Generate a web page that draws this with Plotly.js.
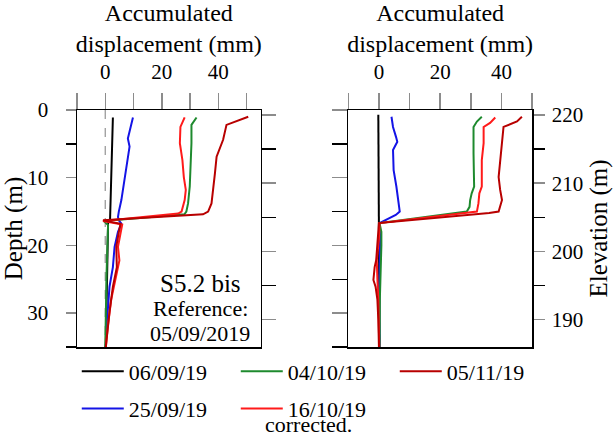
<!DOCTYPE html>
<html>
<head>
<meta charset="utf-8">
<script src="https://cdn.plot.ly/plotly-3.0.1.min.js"></script>
<style>html,body{margin:0;padding:0;background:#fff;}#chart{width:614px;height:438px;}</style>
</head>
<body>
<div id="chart"></div>
<script>
// ---- Series names / colours ----
const seriesNames = ['06/09/19', '25/09/19', '04/10/19', '16/10/19', '05/11/19'];
const seriesColors = ['#000000', '#1414e6', '#1e8a2e', '#ff1a1a', '#b80000'];

// ---- Left panel (S5.2 bis), displacement (mm) vs depth (m) ----
const L_black_depth = [1.1, 5, 10, 15, 16.2, 16.5, 20, 25, 30, 35];
const L_black_mm    = [2.7, 2.5, 2.2, 1.9, 1.7, 1.0, 0.8, 0.6, 0.3, 0.2];

const L_blue_depth = [1.1, 2.5, 4.2, 5.4, 7, 8.9, 11, 13.3, 15.0, 15.8, 16.3, 16.8, 18, 20.2, 23.2, 26.1, 29, 32, 35];
const L_blue_mm    = [9.8, 9.0, 8.0, 8.6, 8.0, 7.4, 6.6, 5.7, 4.8, 4.5, 4.8, 5.7, 4.5, 3.3, 2.7, 1.5, 1.0, 0.4, 0.2];

const L_green_depth = [1.1, 2.2, 4.9, 7.4, 9.9, 11.3, 13.8, 15.0, 15.4, 16.4, 17.0, 18.2, 20, 22, 25, 28, 31, 35];
const L_green_mm    = [32.3, 30.5, 30.5, 30.3, 30.2, 29.9, 29.3, 28.7, 28.0, -0.5, 1.0, 0.9, 0.6, 0.4, 0.4, 0.3, 0.2, 0.0];

const L_red_depth = [1.1, 2.5, 4.9, 7.4, 9.9, 11.8, 13.3, 15.0, 15.3, 16.4, 16.9, 18.5, 20.2, 22.2, 24.6, 28, 32, 35];
const L_red_mm    = [28.1, 26.6, 26.4, 27.3, 27.8, 28.5, 28.1, 27.0, 25.8, -0.8, 6.0, 5.2, 4.5, 5.0, 3.9, 2.1, 0.9, 0.2];

const L_dred_depth = [1.0, 2.2, 4.4, 6.9, 9.4, 11.8, 13.8, 15.0, 15.4, 16.3, 16.8, 18, 20.2, 23.2, 26.1, 29.8, 35];
const L_dred_mm    = [50.6, 42.9, 41.7, 39.4, 38.8, 38.2, 37.6, 36.4, 34.6, -0.8, 5.4, 4.8, 3.9, 4.1, 2.7, 1.5, 0.2];

// dashed zero reference (left panel)
const L_zero_mm = [0, 0];
const L_zero_depth = [0, 35];

// ---- Right panel, displacement (mm) vs depth (m) ----
const R_black_depth = [0.7, 8, 16.7, 25, 35];
const R_black_mm    = [-0.2, -0.1, 0.1, 0.2, 0.2];

const R_blue_depth = [1.0, 2.5, 4.0, 4.7, 5.9, 8.9, 11.3, 13.3, 15.0, 15.5, 16.0, 16.7, 19, 22, 25, 28, 31, 35];
const R_blue_mm    = [4.1, 4.6, 5.6, 6.0, 4.6, 4.8, 5.7, 6.2, 6.8, 5.5, 3.5, 0.2, 0.4, 0.3, 0.0, 0.1, 0.1, 0.2];

const R_green_depth = [1.0, 1.7, 2.5, 4.5, 6.4, 9, 11.3, 12.3, 13.3, 14.3, 15.0, 16.7, 18, 20, 24, 28, 35];
const R_green_mm    = [33.6, 32.0, 30.9, 30.8, 30.9, 31.0, 31.1, 30.3, 29.8, 29.6, 28.7, 0.2, 0.8, 0.8, 0.5, 0.3, 0.2];

const R_red_depth = [1.1, 1.9, 2.5, 4.9, 7.4, 9.9, 11.3, 12.3, 13.8, 15.0, 16.7, 19, 22.2, 25, 28, 35];
const R_red_mm    = [38.0, 36.3, 34.2, 34.2, 33.6, 33.6, 33.6, 32.8, 32.5, 32.0, 0.2, 0.0, -0.7, -0.5, -0.2, 0.1];

const R_dred_depth = [1.0, 1.7, 2.5, 4.9, 7.4, 9.9, 11.8, 13.3, 15.0, 15.2, 16.7, 19, 22.2, 23.2, 25.1, 26.1, 28, 31, 35];
const R_dred_mm    = [46.7, 45.1, 40.7, 40.2, 39.6, 39.1, 39.6, 40.2, 39.1, 36.0, 0.0, -0.3, -0.9, -1.4, -1.8, -1.1, -0.5, -0.2, 0.0];

// ---- Axis ranges ----
const depthRange = [35, 0];
const elevRange = [186.0, 220.73];
const leftDispRange = [-10, 55];
const rightDispRange = [-10, 50];

const FONT = '"Liberation Serif", "Times New Roman", Times, serif';

const leftSeries = [
  [L_black_mm, L_black_depth], [L_blue_mm, L_blue_depth], [L_green_mm, L_green_depth],
  [L_red_mm, L_red_depth], [L_dred_mm, L_dred_depth]
];
const rightSeries = [
  [R_black_mm, R_black_depth], [R_blue_mm, R_blue_depth], [R_green_mm, R_green_depth],
  [R_red_mm, R_red_depth], [R_dred_mm, R_dred_depth]
];
// legend rows: first row 06/09, 04/10, 05/11 ; second row 25/09, 16/10
const legendOf = ['legend', 'legend2', 'legend', 'legend2', 'legend'];
const rankOf = [1, 1, 2, 2, 3];

const traces = [];
traces.push({
  x: L_zero_mm, y: L_zero_depth, xaxis: 'x', yaxis: 'y', mode: 'lines',
  line: {color: '#9a9a9a', width: 1.3, dash: 'dash'}, showlegend: false, hoverinfo: 'skip'
});
leftSeries.forEach((s, i) => {
  traces.push({
    x: s[0], y: s[1], xaxis: 'x', yaxis: 'y', mode: 'lines', name: seriesNames[i],
    line: {color: seriesColors[i], width: 2}, legend: legendOf[i], legendrank: rankOf[i]
  });
});
rightSeries.forEach((s, i) => {
  traces.push({
    x: s[0], y: s[1], xaxis: 'x2', yaxis: 'y4', mode: 'lines', name: seriesNames[i],
    line: {color: seriesColors[i], width: 2}, showlegend: false
  });
});
// empty placeholders so the elevation axes are laid out (they carry no marks)
traces.push({x: [], y: [], xaxis: 'x2', yaxis: 'y2', mode: 'lines', showlegend: false, hoverinfo: 'skip'});
traces.push({x: [], y: [], xaxis: 'x', yaxis: 'y3', mode: 'lines', showlegend: false, hoverinfo: 'skip'});

const tickFont = {family: FONT, size: 21, color: '#000'};
const titleFont = {family: FONT, size: 25, color: '#000'};
const GRAY = '#8c8c8c';

function xAxis(domain, range) {
  return {
    domain: domain, anchor: 'y', side: 'top', range: range,
    tickmode: 'linear', tick0: 0, dtick: 20,
    ticks: 'outside', ticklen: 16, tickwidth: 1.5, tickcolor: GRAY,
    minor: {tickmode: 'linear', tick0: 0, dtick: 10, ticks: 'outside', ticklen: 16, tickwidth: 1.5, tickcolor: GRAY, showgrid: false},
    showline: true, linecolor: '#000', linewidth: 1.5, mirror: true,
    showgrid: false, zeroline: false, tickfont: tickFont, ticklabelstandoff: 5,
    title: {text: 'Accumulated<br>displacement (mm)', font: {family: FONT, size: 24, color: '#000'}, standoff: 0}
  };
}

function depthTicks(len) {
  return {
    tickmode: 'linear', tick0: 0, dtick: 10,
    ticks: 'outside', ticklen: len, tickwidth: 1.5, tickcolor: GRAY,
    minor: {tickmode: 'linear', tick0: 0, dtick: 5, ticks: 'outside', ticklen: len, tickwidth: 1.5, tickcolor: '#000', showgrid: false},
    showline: true, linecolor: '#000', linewidth: 1.5, showgrid: false, zeroline: false
  };
}

const layout = {
  width: 614, height: 438,
  margin: {l: 77, r: 82, t: 110, b: 91, pad: 0, autoexpand: false},
  paper_bgcolor: '#fff', plot_bgcolor: '#fff',
  font: {family: FONT, size: 22, color: '#000'},
  xaxis: xAxis([0, 0.4037], leftDispRange),
  xaxis2: xAxis([0.5963, 1], rightDispRange),
  yaxis: Object.assign(depthTicks(10), {
    domain: [0, 1], anchor: 'x', side: 'left', range: depthRange,
    tickfont: tickFont, ticklabelstandoff: 13,
    title: {text: 'Depth (m)', font: titleFont, standoff: 0}
  }),
  yaxis2: Object.assign(depthTicks(11), {
    overlaying: 'y', anchor: 'x2', side: 'right', range: elevRange,
    tickfont: tickFont, ticklabelstandoff: 3,
    title: {text: 'Elevation (m)', font: titleFont, standoff: 7}
  }),
  yaxis3: Object.assign(depthTicks(14), {
    overlaying: 'y', anchor: 'x', side: 'right', range: elevRange, showticklabels: false
  }),
  yaxis4: Object.assign(depthTicks(15), {
    overlaying: 'y', anchor: 'x2', side: 'left', range: depthRange, showticklabels: false
  }),
  showlegend: true,
  legend: {
    orientation: 'h', x: -0.0005, xanchor: 'left', y: -0.1034, yanchor: 'middle',
    font: {family: FONT, size: 22, color: '#000'}, bgcolor: 'rgba(0,0,0,0)',
    itemwidth: 42, entrywidth: 102, entrywidthmode: 'pixels', traceorder: 'normal'
  },
  legend2: {
    orientation: 'h', x: -0.0005, xanchor: 'left', y: -0.26, yanchor: 'middle',
    font: {family: FONT, size: 22, color: '#000'}, bgcolor: 'rgba(0,0,0,0)',
    itemwidth: 42, entrywidth: 102, entrywidthmode: 'pixels', traceorder: 'normal'
  },
  annotations: [
    {text: 'S5.2 bis', xref: 'paper', yref: 'paper', x: 0.2725, y: 0.268, xanchor: 'center', yanchor: 'middle', showarrow: false, font: {family: FONT, size: 25, color: '#000'}},
    {text: 'Reference:', xref: 'paper', yref: 'paper', x: 0.2714, y: 0.1624, xanchor: 'center', yanchor: 'middle', showarrow: false, font: {family: FONT, size: 22, color: '#000'}},
    {text: '05/09/2019', xref: 'paper', yref: 'paper', x: 0.271, y: 0.057, xanchor: 'center', yanchor: 'middle', showarrow: false, font: {family: FONT, size: 22, color: '#000'}},
    {text: 'corrected.', xref: 'paper', yref: 'paper', x: 0.5077, y: -0.3835, xanchor: 'center', yanchor: 'bottom', borderpad: 0, showarrow: false, font: {family: FONT, size: 22, color: '#000'}}
  ]
};

Plotly.newPlot('chart', traces, layout, {displayModeBar: false, responsive: false, staticPlot: true});
</script>
</body>
</html>
